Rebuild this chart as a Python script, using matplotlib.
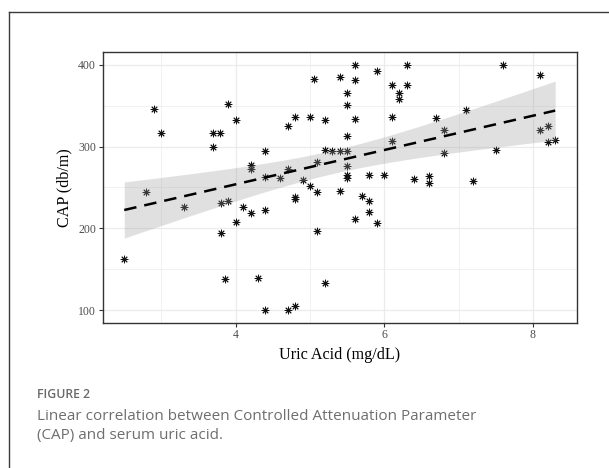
import numpy as np
import matplotlib
matplotlib.use("Agg")
import matplotlib.pyplot as plt
from matplotlib.lines import Line2D

# ---- data ----
uric_acid = [2.50, 2.79, 2.90, 2.99, 3.30, 3.69, 3.79, 3.69, 3.89, 4.00,
             3.80, 3.90, 4.10, 4.20, 4.40, 4.00, 3.80, 3.85, 4.30, 4.40,
             4.70, 4.80, 4.20, 4.20, 4.40, 4.40, 4.60, 4.70, 4.80, 4.70,
             4.80, 4.80, 4.90, 5.00, 5.05, 5.00, 5.10, 5.10, 5.10, 5.20,
             5.20, 5.20, 5.30, 5.40, 5.50, 5.40, 5.40, 5.50, 5.50, 5.50,
             5.50, 5.50, 5.50, 5.60, 5.60, 5.60, 5.60, 5.70, 5.80, 5.80,
             5.80, 5.90, 5.90, 6.00, 6.10, 6.10, 6.10, 6.20, 6.20, 6.30,
             6.30, 6.40, 6.60, 6.60, 6.70, 6.80, 6.80, 7.10, 7.20, 7.50,
             7.60, 8.10, 8.10, 8.20, 8.20, 8.30]
cap = [163, 244, 346, 316, 226, 317, 317, 299, 352, 332,
       231, 233, 226, 219, 222, 208, 195, 138, 140, 100,
       100, 105, 278, 272, 295, 263, 261, 325, 336, 273,
       238, 236, 259, 336, 383, 252, 281, 245, 197, 134,
       332, 296, 295, 295, 294, 385, 246, 365, 351, 313,
       276, 265, 262, 400, 381, 333, 211, 240, 265, 233,
       220, 392, 207, 265, 375, 336, 307, 365, 358, 400,
       375, 260, 264, 255, 335, 320, 292, 345, 258, 296,
       399, 387, 320, 325, 306, 308]

x_ticks = [4, 6, 8]
y_ticks = [100, 200, 300, 400]
x_label = "Uric Acid (mg/dL)"
y_label = "CAP (db/m)"
caption_title = "FIGURE 2"
caption_text = "Linear correlation between Controlled Attenuation Parameter\n(CAP) and serum uric acid."

x = np.asarray(uric_acid, float)
y = np.asarray(cap, float)

# linear fit with 95% confidence band (like geom_smooth(method="lm"))
n = len(x)
slope, intercept = np.polyfit(x, y, 1)
xs = np.linspace(x.min(), x.max(), 200)
fit = intercept + slope * xs
resid = y - (intercept + slope * x)
s = np.sqrt(np.sum(resid ** 2) / (n - 2))
sxx = np.sum((x - x.mean()) ** 2)
tval = 1.989  # t(0.975, df~84)
se = s * np.sqrt(1.0 / n + (xs - x.mean()) ** 2 / sxx)
lo, hi = fit - tval * se, fit + tval * se

# ---- figure ----
fig = plt.figure(figsize=(6.09, 4.68), dpi=100)
fig.patch.set_facecolor("white")

# outer frame lines (left and top)
fig.add_artist(Line2D([9 / 609, 9 / 609], [0, 1 - 12 / 468], transform=fig.transFigure,
                      color="#3a3a3a", lw=1.0))
fig.add_artist(Line2D([9 / 609, 1], [1 - 12 / 468, 1 - 12 / 468], transform=fig.transFigure,
                      color="#3a3a3a", lw=1.0))

ax = fig.add_axes([102.7 / 609, 1 - 322.7 / 468, (576.7 - 102.7) / 609, (322.7 - 52.3) / 468])
xr = x.max() - x.min()
ax.set_xlim(x.min() - 0.05 * xr, x.max() + 0.05 * xr)
ax.set_ylim(85, 415)

# grid
ax.set_xticks(x_ticks)
ax.set_yticks(y_ticks)
ax.set_xticks([3, 5, 7], minor=True)
ax.set_yticks([150, 250, 350], minor=True)
ax.grid(True, which="major", color="#ebebeb", lw=0.9)
ax.grid(True, which="minor", color="#ebebeb", lw=0.5)
ax.set_axisbelow(True)

# points (asterisk: + and x combined)
ax.scatter(x, y, marker=(8, 2, 0), s=24, color="#111111", linewidths=0.7, zorder=2)

# confidence band over the points
ax.fill_between(xs, lo, hi, color="#999999", alpha=0.3, lw=0, zorder=3)
ax.plot(xs, fit, color="black", lw=1.8, dashes=(5, 3.2), zorder=4)

for sp in ax.spines.values():
    sp.set_color("#333333")
    sp.set_linewidth(1.0)

ax.tick_params(which="major", length=2.7, width=0.8, color="#333333",
               labelsize=8.5, labelcolor="#4d4d4d", pad=2)
ax.tick_params(which="minor", length=0)
serif = ["Liberation Serif", "DejaVu Serif"]
for lab in ax.get_xticklabels() + ax.get_yticklabels():
    lab.set_family(serif)

ax.set_xlabel(x_label, family=serif, fontsize=11.6, color="black", labelpad=4)
ax.set_ylabel(y_label, family=serif, fontsize=11.6, color="black", labelpad=4)

# caption
fig.text(37 / 609, 1 - 395 / 468, caption_title, family=["Open Sans", "DejaVu Sans"],
         fontsize=8.8, fontweight="semibold", color="#6a6a6a", va="center", ha="left")
fig.text(37 / 609, 1 - 426 / 468, caption_text, family=["Open Sans", "DejaVu Sans"],
         fontsize=11, color="#6e6e6e", va="center", ha="left", linespacing=1.35)

fig.savefig("out.png", dpi=100, facecolor="white")
